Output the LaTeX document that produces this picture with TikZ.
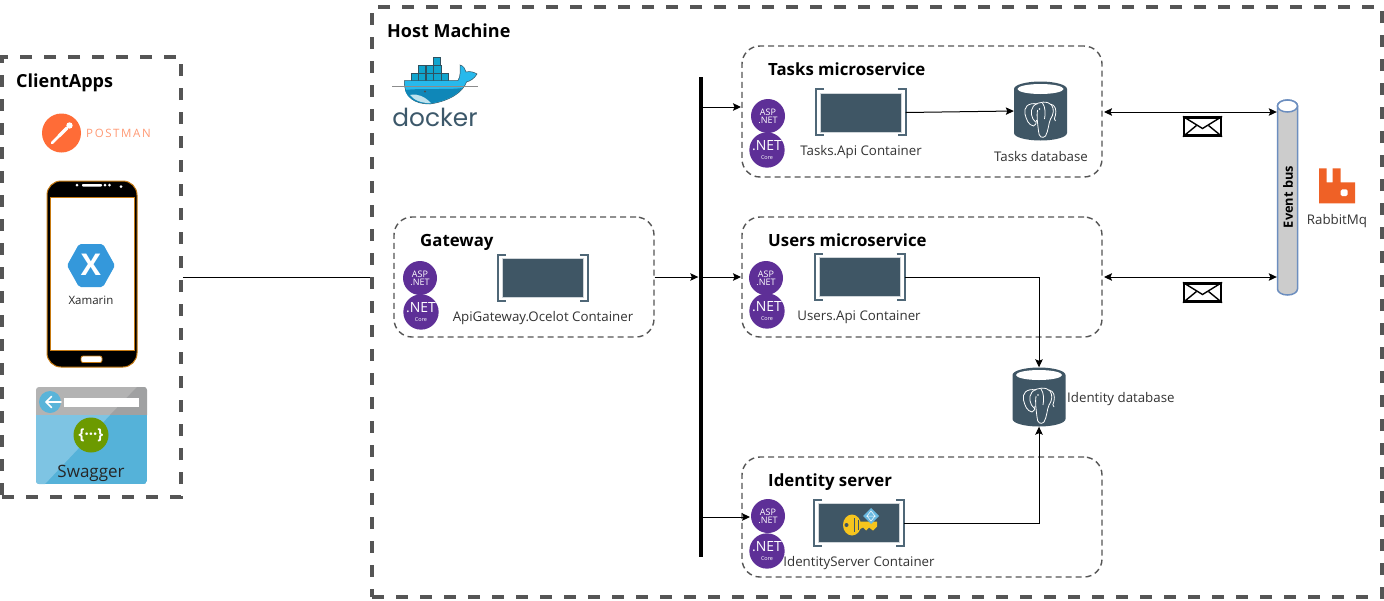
\documentclass[tikz,border=0pt]{standalone}
\usepackage{fontspec}
\setmainfont{Open Sans}
\newfontfamily\dockfont{Poppins}
\usetikzlibrary{arrows.meta,calc}
\definecolor{slateblue}{HTML}{3F5665}
\definecolor{bracketc}{HTML}{4F6777}
\definecolor{framec}{HTML}{555555}
\definecolor{dotnet}{HTML}{5E2F97}
\definecolor{postorange}{HTML}{FF6C37}
\definecolor{postlight}{HTML}{FF9A75}
\definecolor{rabbit}{HTML}{EF6126}
\definecolor{xamblue}{HTML}{3498DB}
\definecolor{swagbody}{HTML}{55B2D9}
\definecolor{swaglight}{HTML}{7EC4E3}
\definecolor{swagtop}{HTML}{B3B3B3}
\definecolor{swagdark}{HTML}{A0A1A2}
\definecolor{swagback}{HTML}{59B4D9}
\definecolor{swaggreen}{HTML}{6C9A00}
\definecolor{phoneedge}{HTML}{C67A12}
\definecolor{dockertext}{HTML}{3C586A}
\definecolor{dockbox}{HTML}{10A5CE}
\definecolor{dockline}{HTML}{30515F}
\definecolor{dockwhale}{HTML}{27B9EC}
\definecolor{dockdeep}{HTML}{0F87B8}
\definecolor{dockbelly}{HTML}{BFE3EE}
\definecolor{keyyellow}{HTML}{F6C51E}
\definecolor{diablue}{HTML}{69B8E0}
\definecolor{busedge}{HTML}{6C8EBF}
\tikzset{
  bigframe/.style={draw=framec,line width=3.5pt,dash pattern=on 12pt off 12pt,inner sep=0pt},
  svcframe/.style={draw=framec,line width=1.4pt,dash pattern=on 6pt off 4pt,rounded corners=18pt,inner sep=0pt},
  hosttitlestyle/.style={anchor=west,inner sep=0pt,text height=15pt,text depth=2pt,font=\fontsize{18}{20}\selectfont\bfseries},
  bigtitle/.style={anchor=west,inner sep=0pt,text height=14pt,text depth=2pt,font=\fontsize{16.8}{18}\selectfont\bfseries},
  lbl/.style={inner sep=0pt,text=black!80,text height=11pt,text depth=2pt,font=\fontsize{13.3}{15}\selectfont},
  conn/.style={draw=black,line width=1pt},
  arr/.style={conn,-{Stealth[length=8pt,width=7.5pt,inset=1.5pt]}},
  biarr/.style={conn,{Stealth[length=8pt,width=7.5pt,inset=1.5pt]}-{Stealth[length=8pt,width=7.5pt,inset=1.5pt]}},
  boxcore/.style={fill=slateblue,draw=white!75!slateblue,line width=1pt,inner sep=0pt,minimum width=81pt,minimum height=39pt},
  bracketline/.style={draw=bracketc,line width=2pt},
  aspc/.style={circle,fill=dotnet,text=white,inner sep=0pt,minimum size=34pt,align=center,font=\fontsize{9}{8}\selectfont},
  netc/.style={circle,fill=dotnet,text=white,inner sep=0pt,minimum size=34pt,align=center,font=\fontsize{14}{10}\selectfont},
  elephant/.style={draw=white,line width=0.8pt,fill=none},
  dbshape/.style={inner sep=0pt,minimum width=53pt,minimum height=59pt},
}
\newcommand{\dockerbox}[3]{%
  \node[boxcore] (#1) at (#2,#3) {};
  \draw[bracketline] ($(#1.north west)+(4,-3.5)$) -- ++(-8,0) -- ++(0,46) -- ++(8,0);
  \draw[bracketline] ($(#1.north east)+(-4,-3.5)$) -- ++(8,0) -- ++(0,46) -- ++(-8,0);
}
\newcommand{\dotnetpair}[5]{%
  \node[aspc] (#1asp) at (#2,#3) {ASP\\.NET};
  \node[netc] (#1net) at (#4,#5) {.NET\\[-1pt]{\fontsize{5.5}{5}\selectfont Core}};
}
\newcommand{\pgdb}[3]{%
  \fill[slateblue] ($(#2,#3)+(-26.5,-22)$) arc[start angle=180,end angle=360,x radius=26.5,y radius=7.5]
     -- ++(0,44) arc[start angle=0,end angle=180,x radius=26.5,y radius=7.5] -- cycle;
  \fill[white] ($(#2,#3)+(0,-22)$) ellipse[x radius=23,y radius=5];
  \node[dbshape] (#1) at (#2,#3) {};
  \begin{scope}[shift={(#2,#3)}]
    \draw[elephant] (-3,-7) .. controls (-13,-9) and (-17,-3) .. (-15.5,3) .. controls (-14,9) and (-12,14) .. (-7,15) .. controls (-5,15) and (-4,12) .. (-4,9);
    \draw[elephant] (-7,-5) .. controls (-11,0) and (-9,8) .. (-5,11);
    \draw[elephant] (-7,-5) .. controls (-2,-10) and (8,-10) .. (11,-6) .. controls (14,-2) and (13,4) .. (10,8) .. controls (8,12) and (8,20) .. (5,25) .. controls (2,28) and (-2,26) .. (-2,20) .. controls (-3,12) and (-4,5) .. (-3,-1);
    \draw[elephant] (2,-8) .. controls (5,-4) and (5,3) .. (4,8);
    \draw[elephant] (10,-7) .. controls (15,-6) and (16,-1) .. (15,4) .. controls (14,7) and (13,9) .. (15,10);
    \fill[white] (-1,-2) circle[radius=0.9];
  \end{scope}
}
\newcommand{\mailicon}[3]{%
  \node[draw=black,fill=white,line width=2.2pt,inner sep=0pt,minimum width=37pt,minimum height=18pt] (#1) at (#2,#3) {};
  \draw[black,line width=1.4pt] (#1.north west) -- ($(#1.center)+(0,2)$) -- (#1.north east);
  \draw[black,line width=1.4pt] (#1.south west) -- ($(#1.center)+(-6,-1)$);
  \draw[black,line width=1.4pt] (#1.south east) -- ($(#1.center)+(6,-1)$);
}
\begin{document}
\begin{tikzpicture}[x=1pt,y=-1pt]
\useasboundingbox[fill=white] (0,0) rectangle (1384,600);

% outer frames
\node[bigframe,minimum width=179pt,minimum height=440pt] (client) at (91.5,277) {};
\node[bigframe,minimum width=1010pt,minimum height=590pt] (host) at (877,302) {};
\node[hosttitlestyle] (clienttitle) at (16,81) {ClientApps};
\node[hosttitlestyle] (hosttitle) at (387,31) {Host Machine};

% Postman
\fill[postorange] (61.5,133) circle[radius=19.5];
\draw[white,line width=2.5pt,line cap=round] (52,143) -- (59,136);
\draw[white,line width=3.5pt,line cap=round] (59,136) -- (67,128);
\fill[white] (69.5,125.5) circle[radius=3.2];
\node[inner sep=0pt,text=postlight,font=\fontsize{11.5}{13}\selectfont\addfontfeature{LetterSpace=14}] (postman) at (118.5,133.5) {POSTMAN};

% Phone
\draw[draw=phoneedge,line width=1pt,fill=black,rounded corners=14pt] (47,181) rectangle (137,367);
\fill[white,draw=phoneedge,line width=0.8pt] (50,197.5) rectangle (134,350.5);
\fill[white,rounded corners=0.8pt] (82,184) rectangle (102,186.5);
\foreach \dx/\dy in {77/185,105/185,109.5/185,121/186.5} \fill[white] (\dx,\dy) circle[radius=1.5];
\draw[fill=white,draw=phoneedge,line width=0.8pt,rounded corners=2pt] (81,356) rectangle (102,362.5);
\fill[rounded corners=2pt,fill=xamblue] (67,265.5) -- (79,244) -- (103,244) -- (115,265.5) -- (103,287) -- (79,287) -- cycle;
\node[inner sep=0pt,text=white,font=\fontsize{30}{30}\selectfont\bfseries] (xamx) at (91,265) {X};
\node[inner sep=0pt,text=black!85,font=\fontsize{11.5}{14}\selectfont] (xamarin) at (91,300.5) {Xamarin};

% Swagger
\begin{scope}
  \clip[rounded corners=3pt] (36,387) rectangle (147,484);
  \fill[swagtop] (36,387) rectangle (147,415);
  \fill[swagdark] (137,387) -- (147,387) -- (147,415) -- (110,415) -- cycle;
  \fill[swagbody] (36,415) rectangle (147,484);
  \fill[swaglight] (36,415) -- (110,415) -- (45,484) -- (36,484) -- cycle;
\end{scope}
\fill[swagback] (50,402) circle[radius=11];
\draw[white,line width=1.6pt,line cap=round,line join=round] (61,402) -- (46,402) (51.5,396.5) -- (46,402) -- (51.5,407.5);
\fill[white] (64,398) rectangle (139,406.5);
\node[circle,fill=swaggreen,text=white,inner sep=0pt,minimum size=35pt,font=\fontsize{15}{15}\selectfont\bfseries] (swagcirc) at (91,435) {\{···\}};
\node[inner sep=0pt,text=black!85,text height=15pt,text depth=2pt,font=\fontsize{17}{19}\selectfont] (swagger) at (91,471) {Swagger};

% Docker
\foreach \bx/\by in {433/57,418/65,426/65,433.5/65,411/73,418/73,426/73,433.5/73,441/73}
  \draw[draw=dockline,fill=dockbox,line width=0.4pt] (\bx,\by) rectangle ++(7.5,8);
\draw[draw=dockline,line width=0.5pt,fill=dockwhale] (404.3,80.5) -- (458,80.5) .. controls (461,76) and (460,70) .. (460,65) .. controls (464,66) and (465,69) .. (466,72) .. controls (470,71) and (474,72) .. (477,74) .. controls (474,79) and (470,81) .. (466.5,82) .. controls (463,92) and (450,101) .. (430,104) .. controls (415,104) and (404,98) .. (404.3,80.5) -- cycle;
\fill[dockdeep] (405,90) .. controls (420,88) and (450,90) .. (462,88) .. controls (457,95) and (446,101) .. (430,103.5) .. controls (416,104) and (407,98) .. (405,90) -- cycle;
\fill[dockbelly] (410,95) .. controls (418,93) and (425,97) .. (431,103) .. controls (421,103.5) and (414,100) .. (410,95) -- cycle;
\fill[black!70] (425,91.5) circle[radius=1.2];
\draw[black!45,line width=0.5pt] (392,86) -- (478,86);
\node[inner sep=0pt,text=dockertext,font=\fontsize{24.8}{26}\selectfont\dockfont] (docker) at (435,117) {docker};

% Gateway
\node[svcframe,minimum width=260pt,minimum height=120pt] (gateway) at (524,277) {};
\node[bigtitle] (gwtitle) at (420,240) {Gateway};
\dotnetpair{gw}{420}{278}{421}{312}
\dockerbox{gwbox}{542.5}{278}
\node[lbl] (gwlbl) at (543,317) {ApiGateway.Ocelot Container};

% Tasks
\node[svcframe,minimum width=360pt,minimum height=131pt] (tasks) at (922,111.5) {};
\node[bigtitle] (tasktitle) at (768,69) {Tasks microservice};
\dotnetpair{task}{768}{116}{767}{150}
\dockerbox{taskbox}{860.5}{112.5}
\node[lbl] (tasklbl) at (861,151) {Tasks.Api Container};
\pgdb{taskdb}{1040.5}{111}
\node[lbl] (taskdblbl) at (1041,156.5) {Tasks database};

% Users
\node[svcframe,minimum width=360pt,minimum height=120pt] (users) at (922,277) {};
\node[bigtitle] (usertitle) at (768,240) {Users microservice};
\dotnetpair{user}{766}{278}{767}{311}
\dockerbox{userbox}{859.5}{277}
\node[lbl] (userlbl) at (859,316) {Users.Api Container};

% Identity
\node[svcframe,minimum width=360pt,minimum height=120pt] (ident) at (922,517) {};
\node[bigtitle] (idtitle) at (768,480) {Identity server};
\dotnetpair{id}{768}{516}{767}{551}
\dockerbox{idbox}{859}{523}
\fill[keyyellow] (852,525) ellipse[x radius=9,y radius=10.5];
\fill[keyyellow] (856,521.5) -- (877,521.5) -- (877,526.5) -- (873,530.5) -- (869,527.5) -- (866,530.5) -- (863,527.5) -- (856,531) -- cycle;
\fill[slateblue] (846.5,525) circle[radius=2];
\draw[slateblue,line width=0.6pt] (854,518) -- (854,532) (858,520) -- (858,530);
\fill[diablue] (871,508) -- (879,516) -- (871,524) -- (863,516) -- cycle;
\draw[white,line width=0.5pt] (866,516) -- (876,516) (871,511) -- (867,516) -- (871,521) -- (875,516) -- cycle;
\node[lbl] (idlbl) at (859,562) {IdentityServer Container};

% Identity DB
\pgdb{iddb}{1039}{397}
\node[lbl,anchor=west] (iddblbl) at (1067,398) {Identity database};

% Bus
\node[fill=black,inner sep=0pt,minimum width=4pt,minimum height=480pt] (bus) at (700.5,317) {};
\coordinate (tasksin) at (741,107);
\coordinate (usersin) at (741,277);
\coordinate (idin) at (750,517);

% Event bus
\draw[draw=busedge,line width=1.5pt,fill=black!20] (1277.5,106) -- (1277.5,289) arc[start angle=180,end angle=0,x radius=10,y radius=6] -- (1297.5,106) arc[start angle=0,end angle=-180,x radius=10,y radius=6] -- cycle;
\draw[draw=busedge,line width=1.5pt,fill=white] (1287.5,106) ellipse[x radius=10,y radius=6];
\node[dbshape,minimum width=21pt,minimum height=195pt] (evbus) at (1287.5,197.5) {};
\node[rotate=90,inner sep=0pt,font=\fontsize{12.8}{14}\selectfont\bfseries] (evlbl) at (1288,197) {Event bus};

% RabbitMQ
\fill[rabbit] (1319,168.3) -- (1326.7,168.3) -- (1326.7,182.3) -- (1332.7,182.3) -- (1332.7,168.3) -- (1340.7,168.3) -- (1340.7,182.3) -- (1355,182.3) -- (1355,203.3) -- (1319,203.3) -- cycle;
\fill[white,rounded corners=1.5pt] (1340.7,189.3) rectangle (1347.7,196);
\node[lbl] (rabbitlbl) at (1337,219.5) {RabbitMq};

% Mail
\mailicon{mailone}{1202.5}{126.5}
\mailicon{mailtwo}{1202.5}{292.5}

% Connectors
\draw[conn] (client.east) -- (client.east -| host.west);
\draw[arr] (gateway.east) -- (gateway.east -| bus.west);
\draw[arr] (bus.center |- tasksin) -- (tasksin);
\draw[arr] (bus.center |- usersin) -- (usersin);
\draw[arr] (bus.center |- idin) -- (idin);
\draw[arr] ($(taskbox.east)+(4,0)$) -- (taskdb.west);
\draw[arr] ($(userbox.east)+(4,0)$) -| (iddb.north);
\draw[arr] ($(idbox.east)+(4,0)$) -| (iddb.south);
\coordinate (busa) at (1104,112);
\coordinate (busb) at (1104,277);
\draw[biarr] (busa) -- (busa -| evbus.west);
\draw[biarr] (busb) -- (busb -| evbus.west);
\end{tikzpicture}
\end{document}
